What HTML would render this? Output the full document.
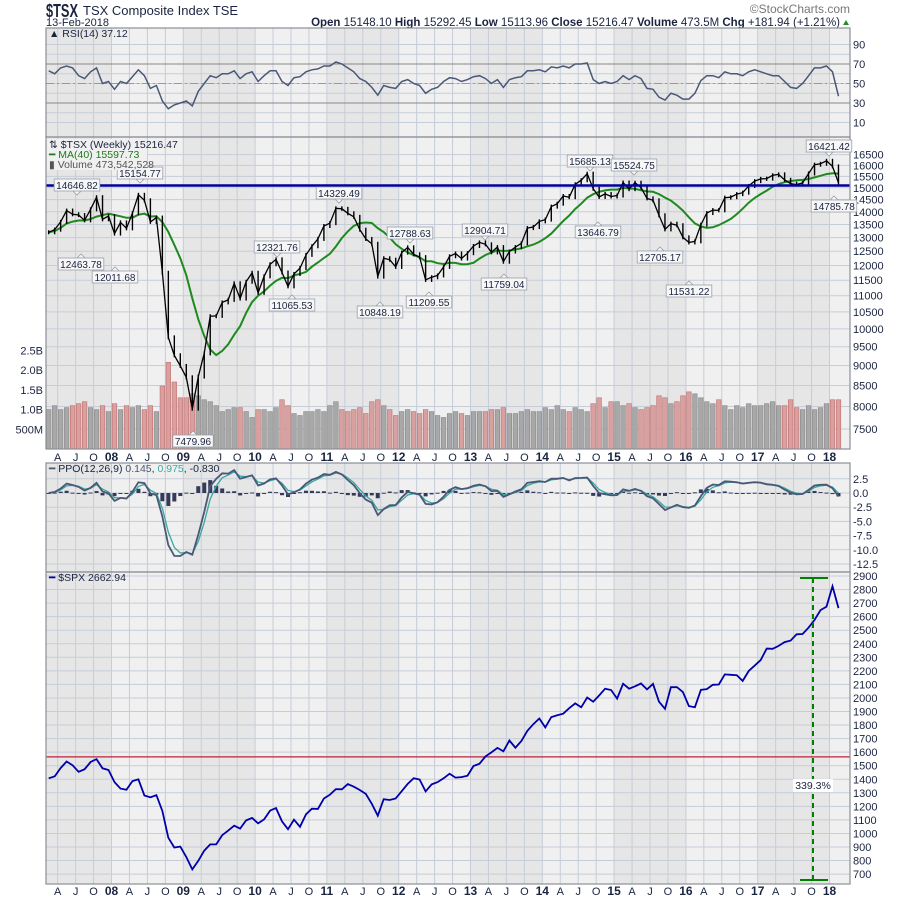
<!DOCTYPE html>
<html><head><meta charset="utf-8">
<style>
body{margin:0;background:#fff;width:900px;height:900px;overflow:hidden}
svg{display:block;font-family:"Liberation Sans",sans-serif}
text{fill:#1a2440}
</style></head><body>
<svg id="c" width="900" height="900" viewBox="0 0 900 900" xmlns="http://www.w3.org/2000/svg">
<g>
<text x="46" y="17" font-size="18" font-weight="bold" textLength="32" lengthAdjust="spacingAndGlyphs">$TSX</text>
<text x="83" y="15" font-size="13">TSX Composite Index  TSE</text>
<text x="46" y="26" font-size="11">13-Feb-2018</text>
<text x="850" y="13" font-size="12" text-anchor="end" style="fill:#777">©StockCharts.com</text>
<text x="840" y="26" font-size="11.5" text-anchor="end"><tspan font-weight="bold">Open</tspan> 15148.10 <tspan font-weight="bold">High</tspan> 15292.45 <tspan font-weight="bold">Low</tspan> 15113.96 <tspan font-weight="bold">Close</tspan> 15216.47 <tspan font-weight="bold">Volume</tspan> 473.5M <tspan font-weight="bold">Chg</tspan> +181.94 (+1.21%)</text>
<polygon points="843,25 849,25 846,20" fill="#2a8a2a"/>
</g>
<g id="bg"></g><g id="grid"></g><g id="marks"></g><g id="axes"></g><g id="labels"></g>
</svg>
<script>
// ---- data (monthly, Feb 2007 .. Feb 2018) ----
const tsxClose=[13200,13300,13600,14050,13900,13870,13660,14100,14600,13700,13830,
13150,13580,13350,13940,14700,14470,13600,13770,11750,9760,9270,8990,
8700,7950,8720,9320,10370,10380,10790,10870,11400,10910,11450,11750,
11090,11630,12040,12210,11760,11300,11710,11910,12370,12680,12950,13440,
13550,14140,14120,13940,13800,13300,12950,12770,11620,12250,12200,11950,
12450,12640,12390,12290,11510,11600,11660,11950,12320,12420,12240,12430,
12690,12820,12750,12460,12650,12130,12490,12650,12790,13360,13400,13620,
13690,14210,14330,14650,14600,15150,15330,15620,14960,14610,14740,14630,
14670,15230,14940,15220,15010,14550,14470,13860,13310,13530,13470,13010,
12820,12860,13490,13950,14070,14060,14580,14600,14730,14790,15080,15290,
15390,15400,15550,15590,15350,15180,15140,15210,15630,16030,16070,16210,
15950,15216];
const volumeB=[1.0,1.1,1.0,1.05,1.1,1.15,1.2,1.05,1.0,1.1,0.95,
1.15,1.0,1.1,1.05,1.1,1.0,1.1,0.95,1.6,2.2,1.7,1.3,
1.3,1.4,1.35,1.25,1.2,1.1,0.95,1.0,1.05,1.05,0.95,0.8,
1.0,1.0,0.95,1.05,1.25,1.1,0.9,0.85,0.95,0.95,1.0,0.95,
1.1,1.2,1.0,0.95,1.0,1.05,0.9,1.2,1.25,1.1,1.0,0.85,
0.95,1.0,0.95,0.9,1.0,0.95,0.85,0.8,0.9,0.95,0.9,0.85,
0.95,0.95,0.95,1.0,1.0,1.05,0.9,0.9,0.95,1.0,0.95,0.95,
1.05,1.0,1.1,1.0,0.95,1.05,1.0,0.95,1.15,1.3,1.05,1.2,
1.2,1.1,1.15,1.05,1.0,1.05,1.1,1.35,1.3,1.15,1.2,1.35,
1.45,1.4,1.3,1.2,1.15,1.25,1.1,1.0,1.1,1.05,1.15,1.1,
1.1,1.15,1.2,1.1,1.1,1.25,1.05,1.0,1.1,1.0,1.05,1.15,
1.25,1.25];
const rsiValues=[63,60,66,68,66,58,55,62,66,50,52,
44,52,50,57,64,58,45,48,32,24,28,30,
32,27,42,50,58,56,60,60,63,55,60,62,
52,58,63,63,52,48,56,57,62,64,65,68,
68,72,70,66,62,55,52,46,38,48,46,45,
52,54,50,48,40,44,46,52,56,55,52,54,
57,58,55,50,54,46,54,56,57,63,63,64,
62,67,66,68,66,70,70,71,54,50,52,50,
52,58,54,58,55,45,44,36,33,40,38,34,
34,40,53,58,58,56,62,60,60,58,62,64,
62,60,58,58,52,46,45,50,58,66,66,68,
62,37];
const spxClose=[1407,1421,1482,1531,1503,1455,1474,1527,1549,1481,1468,
1379,1331,1323,1386,1400,1280,1267,1283,1165,969,896,903,
826,735,798,873,919,919,987,1021,1057,1036,1096,1115,
1074,1104,1169,1187,1089,1031,1102,1049,1141,1183,1181,1258,
1286,1327,1326,1364,1345,1321,1292,1219,1131,1253,1247,1258,
1312,1366,1408,1398,1310,1362,1379,1407,1441,1412,1416,1426,
1498,1515,1569,1598,1631,1606,1686,1633,1682,1757,1806,1848,
1783,1859,1872,1884,1924,1960,1931,2003,1972,2018,2068,2059,
1995,2105,2068,2086,2107,2063,2104,1972,1920,2079,2080,2044,
1940,1932,2060,2065,2097,2099,2174,2171,2168,2126,2199,2239,
2279,2364,2363,2384,2412,2423,2470,2472,2519,2575,2648,2674,
2824,2663];
const tsxTicks=[16500,16000,15500,15000,14500,14000,13500,13000,12500,12000,11500,11000,10500,10000,9500,9000,8500,8000,7500];
const volTicks=[[2.5,"2.5B"],[2.0,"2.0B"],[1.5,"1.5B"],[1.0,"1.0B"],[0.5,"500M"]];
const rsiTicks=[90,70,50,30,10];
const ppoTicks=[2.5,0,-2.5,-5,-7.5,-10,-12.5];
const spxTicks=[2900,2800,2700,2600,2500,2400,2300,2200,2100,2000,1900,1800,1700,1600,1500,1400,1300,1200,1100,1000,900,800,700];
// [label, centerX, centerY, pointer direction: 1 = point below box, -1 = point above box]
const annotations=[["14646.82",77,185,1],["15154.77",140,173,1],["12463.78",81,264,-1],["12011.68",115,277,-1],["7479.96",193,441,-1],
["12321.76",277,247,1],["11065.53",292,305,-1],["14329.49",339,193,1],["10848.19",380,312,-1],["12788.63",410,233,1],["11209.55",429,302,-1],
["12904.71",485,230,1],["11759.04",504,284,-1],["15685.13",590,161,1],["15524.75",634,165,1],["13646.79",598,232,-1],
["12705.17",660,257,-1],["11531.22",689,291,-1],["16421.42",829,146,1],["14785.78",834,206,-1]];
const resistanceLevel=15100, spxRefLevel=1565;

// ---- scales ----
const L=46,R=850;
const P={rsi:[28,137],main:[137,449],ppo:[463,572],spx:[572,884]};
const xOfDate=d=>111.5+(d-2008)*71.8;
const xOf=i=>xOfDate(2007+(i+1.5)/12);
const yTsx=v=>429-348*Math.log(v/7500);
const yVol=v=>449-v*39.4;
const yRsi=v=>64+(70-v)*0.975;
const yPpo=v=>493-v*5.68;
const ySpx=v=>576+(2900-v)*0.1355;

const NS="http://www.w3.org/2000/svg";
function mk(parent,tag,attrs,name){const e=document.createElementNS(NS,tag);for(const k in attrs)e.setAttribute(k,attrs[k]);


document.getElementById(parent).appendChild(e);return e;}
function txt(parent,x,y,s,attrs,name){const e=mk(parent,'text',Object.assign({x:x,y:y,'font-size':11},attrs||{}),name);e.textContent=s;return e;}

// backgrounds: alternating year bands
for(const k in P){const [t,b]=P[k];
  mk('bg','rect',{x:L,y:t,width:R-L,height:b-t,fill:'#f0f0f0'},k+'-panel-bg');
  for(let yr=2007;yr<=2018;yr++){ if(yr%2===1){const x0=Math.max(L,xOfDate(yr)),x1=Math.min(R,xOfDate(yr+1));
    if(x1>x0) mk('bg','rect',{x:x0,y:t,width:x1-x0,height:b-t,fill:'#e6e6e6'},'year-band-'+yr);}}
}
// vertical grid
for(let q=2007.25;q<=2018.01;q+=0.25){const x=xOfDate(q);
  for(const k in P){mk('grid','line',{x1:x,x2:x,y1:P[k][0],y2:P[k][1],stroke:'#c6cdd8','stroke-width':1},'v-gridline');}}
// horizontal grids
for(let v=10;v<=90;v+=10){mk('grid','line',{x1:L,x2:R,y1:yRsi(v),y2:yRsi(v),stroke:'#c6cdd8'},'rsi-gridline');}
tsxTicks.forEach(v=>mk('grid','line',{x1:L,x2:R,y1:yTsx(v),y2:yTsx(v),stroke:'#c6cdd8'},'price-gridline'));
ppoTicks.forEach(v=>mk('grid','line',{x1:L,x2:R,y1:yPpo(v),y2:yPpo(v),stroke:'#c6cdd8'},'ppo-gridline'));
spxTicks.forEach(v=>mk('grid','line',{x1:L,x2:R,y1:ySpx(v),y2:ySpx(v),stroke:'#c6cdd8'},'spx-gridline'));
[70,30].forEach(v=>mk('grid','line',{x1:L,x2:R,y1:yRsi(v),y2:yRsi(v),stroke:'#888','stroke-width':1},'rsi-level-line'));
mk('grid','line',{x1:L,x2:R,y1:yRsi(50),y2:yRsi(50),stroke:'#999','stroke-dasharray':'8,3,2,3'},'rsi-midline');

const path=(arr,fx,fy)=>arr.map((v,i)=>(i?'L':'M')+fx(i).toFixed(1)+','+fy(v).toFixed(1)).join('');

// RSI
mk('marks','path',{d:path(rsiValues,xOf,yRsi),fill:'none',stroke:'#4a5878','stroke-width':1.5},'rsi-line');

// Volume
volumeB.forEach((v,i)=>{const down=i>0&&tsxClose[i]<tsxClose[i-1];
  mk('marks','rect',{x:xOf(i)-2.3,y:yVol(v),width:4.6,height:449-yVol(v),fill:down?'#d9a0a0':'#a8a8a8',stroke:down?'#c07070':'#888','stroke-width':0.6},'volume-bar');});

// MA(40) ~ 9 month MA
const ma=tsxClose.map((v,i)=>{const s=tsxClose.slice(Math.max(0,i-8),i+1);return s.reduce((a,b)=>a+b,0)/s.length;});
mk('marks','path',{d:path(ma,xOf,yTsx),fill:'none',stroke:'#1e8a1e','stroke-width':2},'ma40-line');
// price bars
tsxClose.forEach((v,i)=>{const p=i?tsxClose[i-1]:v;const hi=Math.max(p,v),lo=Math.min(p,v);
  mk('marks','line',{x1:xOf(i),x2:xOf(i),y1:yTsx(hi)-2,y2:yTsx(lo)+2,stroke:'#000','stroke-width':1.4},'price-bar');});
mk('marks','path',{d:path(tsxClose,xOf,yTsx),fill:'none',stroke:'#000','stroke-width':1.3},'price-line');
mk('marks','line',{x1:L,x2:R,y1:yTsx(resistanceLevel),y2:yTsx(resistanceLevel),stroke:'#0000a0','stroke-width':2.5},'resistance-line');

// PPO derived from closes
function ema(arr,n){const a=2/(n+1);let out=[],e=arr[0];arr.forEach(v=>{e=a*v+(1-a)*e;out.push(e);});return out;}
const e1=ema(tsxClose,2.77),e2=ema(tsxClose,6);
const ppo=e1.map((v,i)=>(v-e2[i])/e2[i]*100);
const sig=ema(ppo,2.1);
ppo.forEach((v,i)=>{const h=v-sig[i];mk('marks','rect',{x:xOf(i)-2,y:Math.min(yPpo(h),yPpo(0)),width:4,height:Math.max(1,Math.abs(yPpo(h)-yPpo(0))),fill:'#353a5a'},'ppo-histogram-bar');});
mk('marks','path',{d:path(sig,xOf,yPpo),fill:'none',stroke:'#3aa89e','stroke-width':1.3},'ppo-signal-line');
mk('marks','path',{d:path(ppo,xOf,yPpo),fill:'none',stroke:'#4a5878','stroke-width':1.8},'ppo-line');

// SPX
mk('marks','line',{x1:L,x2:R,y1:ySpx(spxRefLevel),y2:ySpx(spxRefLevel),stroke:'#c0203a','stroke-width':1.2},'spx-reference-line');
mk('marks','path',{d:path(spxClose,xOf,ySpx),fill:'none',stroke:'#0000aa','stroke-width':1.8},'spx-line');
mk('marks','line',{x1:800,x2:828,y1:578,y2:578,stroke:'#008000','stroke-width':2},'gain-cap-top');
mk('marks','line',{x1:800,x2:828,y1:880,y2:880,stroke:'#008000','stroke-width':2},'gain-cap-bottom');
mk('marks','line',{x1:813,x2:813,y1:578,y2:880,stroke:'#008000','stroke-width':2,'stroke-dasharray':'5,4'},'gain-measure-line');
mk('marks','rect',{x:793,y:779,width:40,height:13,fill:'#fff'},'gain-label-bg');
txt('marks',813,789,'339.3%',{'text-anchor':'middle','font-size':10.5},'gain-label');

// panel borders & axes
for(const k in P){mk('axes','rect',{x:L,y:P[k][0],width:R-L,height:P[k][1]-P[k][0],fill:'none',stroke:'#8a8f98','stroke-width':1.2},k+'-panel-border');}
rsiTicks.forEach(v=>txt('axes',853,yRsi(v)+4,String(v),{},'rsi-tick-label'));
tsxTicks.forEach(v=>txt('axes',853,yTsx(v)+4,String(v),{},'price-tick-label'));
volTicks.forEach(t=>txt('axes',43,yVol(t[0])+4,t[1],{'text-anchor':'end'},'volume-tick-label'));
ppoTicks.forEach(v=>txt('axes',853,yPpo(v)+4,v.toFixed(1),{},'ppo-tick-label'));
spxTicks.forEach(v=>txt('axes',853,ySpx(v)+4,String(v),{},'spx-tick-label'));
// x labels
const ml={0.25:'A',0.5:'J',0.75:'O'};
for(let q=2007.25;q<=2018.01;q+=0.25){const yr=Math.floor(q+1e-6),f=+(q-yr).toFixed(2);
  const s=f===0?String(yr%100).padStart(2,'0'):ml[f];const bold=f===0;
  [461,895].forEach(y=>txt('axes',xOfDate(q),y,s,{'text-anchor':'middle','font-size':bold?12:11,'font-weight':bold?'bold':'normal'},'x-tick-label'));}

// annotations
annotations.forEach(a=>{const w=a[0].length*5.2+4;const cx=a[1],cy=a[2],d=a[3];
  const ty=d>0?cy+6:cy-6;
  mk('labels','polygon',{points:(cx-4)+','+ty+' '+(cx+4)+','+ty+' '+cx+','+(ty+4*d),fill:'#f7f7f7',stroke:'#9aa0a8','stroke-width':0.8},'annotation-pointer');
  mk('labels','rect',{x:cx-w/2,y:cy-6,width:w,height:12,fill:'#f7f7f7',stroke:'#9aa0a8','stroke-width':0.8},'price-annotation-box');
  txt('labels',cx,cy+4,a[0],{'text-anchor':'middle','font-size':10},'price-annotation');});

// legends
txt('labels',49,37,'▲ RSI(14) 37.12',{'font-size':10.5},'rsi-legend');
mk('labels','rect',{x:47,y:139,width:100,height:31,fill:'#f0f0f0'},'main-legend-bg');
txt('labels',49,148,'⇅ $TSX (Weekly) 15216.47',{'font-size':10.5},'price-legend');
txt('labels',49,158,'━ MA(40) 15597.73',{'font-size':10.5,style:'fill:#1e7a1e'},'ma-legend');
txt('labels',49,168,'▮ Volume 473,542,528',{'font-size':10.5,style:'fill:#555'},'volume-legend');
const pl=txt('labels',49,472,'',{'font-size':10.5},'ppo-legend');
pl.innerHTML='<tspan style="fill:#4a5878">━</tspan> PPO(12,26,9) <tspan style="fill:#4a5878">0.145</tspan>, <tspan style="fill:#3aa89e">0.975</tspan>, -0.830';
txt('labels',49,581,'',{'font-size':10.5},'spx-legend').innerHTML='<tspan style="fill:#0000aa">━</tspan> $SPX 2662.94';
</script>
</body></html>
